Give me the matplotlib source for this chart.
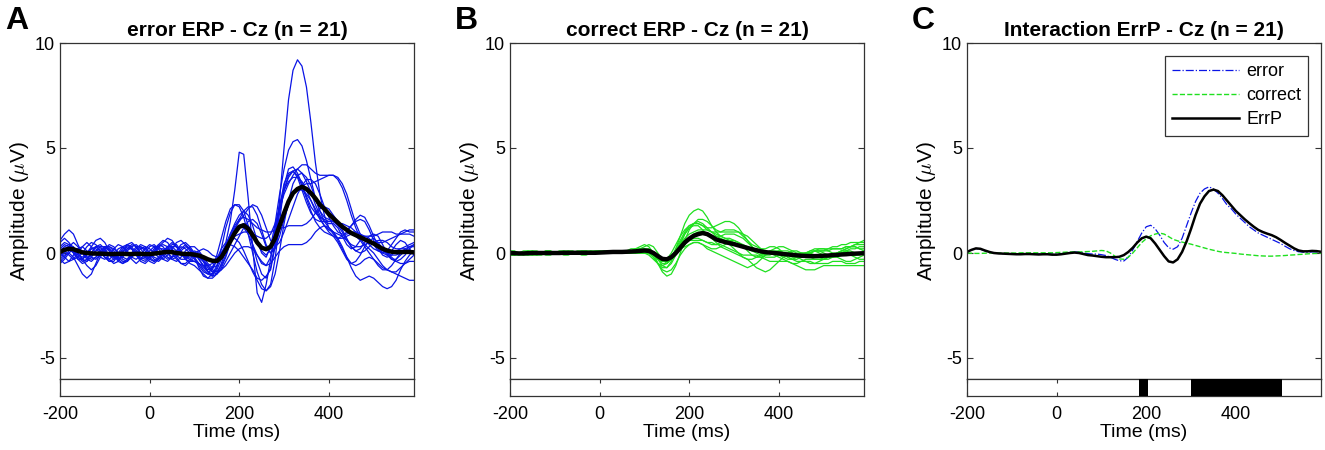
import numpy as np
import matplotlib
matplotlib.use('Agg')
import matplotlib.pyplot as plt

plt.rcParams['font.family'] = ['Liberation Sans', 'DejaVu Sans']
plt.rcParams['mathtext.fontset'] = 'cm'
plt.rcParams['axes.unicode_minus'] = False

# time axis: -200 .. 590 ms, 10 ms steps
t = np.arange(-200, 600, 10)
x_ticks = [-200, 0, 200, 400]
y_ticks = [-5, 0, 5, 10]

titles = ['error ERP - Cz (n = 21)', 'correct ERP - Cz (n = 21)', 'Interaction ErrP - Cz (n = 21)']
letters = ['A', 'B', 'C']
legend_labels = ['error', 'correct', 'ErrP']

# significant time windows (ms) for panel C
sig_start = [183, 299]
sig_end = [204, 502]

# grand averages
error_avg = [0.05, 0.15, 0.2, 0.18, 0.1, 0.03, 0.0, -0.02, -0.03, -0.03,
             -0.04, -0.05, -0.05, -0.04, -0.04, -0.05, -0.05, -0.04, -0.04, -0.05,
             -0.05, -0.03, 0.0, 0.03, 0.05, 0.04, 0.0, -0.03, -0.05, -0.05,
             -0.08, -0.12, -0.2, -0.3, -0.37, -0.38, -0.2, 0.15, 0.55, 0.95,
             1.25, 1.32, 1.15, 0.85, 0.5, 0.25, 0.18, 0.3, 0.7, 1.3,
             1.9, 2.45, 2.85, 3.05, 3.15, 3.05, 2.85, 2.6, 2.3, 2.1,
             1.85, 1.65, 1.45, 1.25, 1.1, 0.95, 0.85, 0.75, 0.65, 0.55,
             0.45, 0.32, 0.2, 0.12, 0.06, 0.04, 0.04, 0.05, 0.05, 0.03]

correct_avg = [0.0, -0.01, -0.02, -0.02, -0.01, 0.0, 0.0, 0.0, 0.0, 0.0,
               0.0, 0.0, 0.01, 0.01, 0.01, 0.01, 0.01, 0.01, 0.01, 0.01,
               0.02, 0.03, 0.04, 0.05, 0.05, 0.05, 0.06, 0.07, 0.08, 0.1,
               0.12, 0.1, 0.0, -0.15, -0.28, -0.3, -0.2, 0.0, 0.25, 0.5,
               0.68, 0.82, 0.9, 0.95, 0.9, 0.78, 0.65, 0.58, 0.52, 0.47,
               0.42, 0.36, 0.3, 0.24, 0.18, 0.13, 0.08, 0.04, 0.02, 0.0,
               -0.02, -0.05, -0.07, -0.09, -0.11, -0.13, -0.14, -0.15, -0.15, -0.14,
               -0.13, -0.12, -0.1, -0.09, -0.07, -0.06, -0.04, -0.03, -0.02, -0.01]

errp = [0.05, 0.15, 0.22, 0.2, 0.12, 0.05, 0.0, -0.02, -0.03, -0.04,
        -0.05, -0.06, -0.06, -0.05, -0.05, -0.06, -0.07, -0.06, -0.06, -0.08,
        -0.08, -0.06, -0.03, 0.0, 0.02, 0.0, -0.05, -0.1, -0.12, -0.15,
        -0.18, -0.2, -0.2, -0.2, -0.18, -0.1, 0.05, 0.25, 0.5, 0.7,
        0.78, 0.7, 0.45, 0.15, -0.15, -0.4, -0.45, -0.3, 0.05, 0.55,
        1.15, 1.8, 2.35, 2.7, 2.95, 3.02, 2.95, 2.75, 2.5, 2.25,
        2.0, 1.8, 1.6, 1.42, 1.25, 1.1, 1.0, 0.92, 0.85, 0.75,
        0.62, 0.48, 0.35, 0.22, 0.12, 0.08, 0.08, 0.1, 0.09, 0.06]

# single subjects, error condition
err_subj = [
    [0.3, 0.5, 0.4, 0.1, -0.2, -0.3, -0.1, 0.2, 0.3, 0.1,
     -0.2, -0.4, -0.3, 0.0, 0.3, 0.4, 0.2, -0.1, -0.3, -0.2,
     0.1, 0.3, 0.3, 0.1, -0.2, -0.3, -0.2, 0.1, 0.3, 0.2,
     0.0, -0.3, -0.6, -0.8, -0.7, -0.4, 0.0, 0.3, 0.4, 0.3,
     0.1, -0.2, -0.5, -0.8, -1.2, -1.3, -1.1, -0.8, 0.3, 2.5,
     5.0, 7.3, 8.7, 9.2, 8.9, 7.9, 6.2, 4.3, 2.8, 1.8,
     1.2, 0.9, 0.7, 0.7, 0.8, 0.9, 0.8, 0.6, 0.3, 0.0,
     -0.3, -0.6, -0.8, -0.8, -0.6, -0.3, 0.0, 0.2, 0.3, 0.3],
    [-0.2, 0.0, 0.3, 0.5, 0.3, 0.0, -0.3, -0.4, -0.2, 0.1,
     0.3, 0.2, -0.1, -0.4, -0.5, -0.3, 0.0, 0.3, 0.3, 0.1,
     -0.2, -0.4, -0.3, 0.0, 0.3, 0.5, 0.3, 0.0, -0.3, -0.4,
     -0.4, -0.5, -0.7, -0.9, -0.8, -0.3, 0.2, 0.5, 1.5, 3.0,
     4.8, 4.7, 2.6, 0.2, -1.9, -2.35, -1.5, -0.3, 1.2, 2.3,
     3.0, 3.4, 3.6, 3.6, 3.4, 3.0, 2.5, 2.0, 1.6, 1.3,
     1.1, 1.0, 0.9, 0.8, 0.6, 0.4, 0.3, 0.3, 0.4, 0.5,
     0.5, 0.4, 0.2, 0.0, -0.1, -0.1, 0.0, 0.1, 0.1, 0.0],
    [0.0, -0.2, -0.4, -0.3, 0.0, 0.3, 0.5, 0.3, 0.0, -0.2,
     -0.3, -0.1, 0.2, 0.4, 0.3, 0.0, -0.3, -0.5, -0.3, 0.0,
     0.3, 0.4, 0.2, -0.1, -0.3, -0.2, 0.1, 0.4, 0.5, 0.3,
     0.0, -0.3, -0.6, -0.9, -1.0, -0.8, -0.3, 0.3, 0.9, 1.4,
     1.8, 2.0, 1.8, 1.3, 0.6, 0.0, -0.2, 0.3, 1.4, 2.8,
     4.0, 4.9, 5.3, 5.4, 5.1, 4.4, 3.5, 2.6, 2.0, 1.7,
     1.6, 1.5, 1.3, 1.0, 0.6, 0.3, 0.1, 0.0, 0.1, 0.3,
     0.5, 0.6, 0.6, 0.5, 0.3, 0.2, 0.2, 0.3, 0.4, 0.5],
    [0.5, 0.7, 0.5, 0.2, -0.1, -0.2, 0.0, 0.2, 0.2, 0.0,
     -0.2, -0.3, -0.1, 0.2, 0.3, 0.1, -0.2, -0.3, -0.1, 0.2,
     0.4, 0.3, 0.0, -0.3, -0.4, -0.2, 0.1, 0.3, 0.2, 0.0,
     -0.3, -0.6, -0.9, -1.0, -0.7, -0.1, 0.7, 1.5, 2.1, 2.3,
     2.2, 1.7, 0.9, 0.0, -0.9, -1.5, -1.8, -1.5, -0.3, 1.5,
     3.2, 4.0, 4.1, 3.8, 3.3, 2.7, 2.2, 1.9, 1.7, 1.6,
     1.5, 1.5, 1.4, 1.4, 1.3, 1.2, 1.0, 0.9, 0.8, 0.8,
     0.8, 0.9, 1.0, 1.0, 1.0, 0.9, 0.9, 1.0, 1.1, 1.1],
    [-0.3, -0.5, -0.4, -0.1, 0.2, 0.3, 0.1, -0.2, -0.3, -0.1,
     0.2, 0.4, 0.3, 0.0, -0.3, -0.4, -0.2, 0.1, 0.3, 0.2,
     0.0, -0.2, -0.3, -0.1, 0.2, 0.4, 0.4, 0.1, -0.2, -0.3,
     -0.4, -0.5, -0.6, -0.6, -0.5, -0.3, 0.0, 0.3, 0.6, 0.8,
     0.9, 1.0, 1.0, 0.9, 0.8, 0.7, 0.7, 0.9, 1.4, 2.1,
     2.8, 3.3, 3.7, 4.0, 4.2, 4.2, 4.0, 3.8, 3.7, 3.7,
     3.7, 3.7, 3.5, 3.1, 2.5, 1.8, 1.2, 0.7, 0.4, 0.2,
     0.0, -0.3, -0.6, -0.8, -0.9, -0.9, -0.7, -0.5, -0.3, -0.1],
    [0.2, 0.1, -0.1, -0.3, -0.2, 0.0, 0.3, 0.5, 0.4, 0.1,
     -0.2, -0.4, -0.4, -0.1, 0.2, 0.4, 0.3, 0.0, -0.3, -0.4,
     -0.2, 0.1, 0.4, 0.6, 0.5, 0.2, -0.1, -0.3, -0.3, -0.1,
     0.1, 0.0, -0.4, -0.9, -1.1, -0.7, 0.2, 1.2, 1.9, 2.3,
     2.3, 2.0, 1.3, 0.4, -0.4, -1.0, -1.2, -0.7, 0.5, 1.9,
     3.0, 3.7, 3.9, 3.7, 3.2, 2.6, 2.0, 1.5, 1.2, 1.0,
     0.9, 0.8, 0.5, 0.1, -0.3, -0.5, -0.4, -0.1, 0.3, 0.6,
     0.7, 0.5, 0.2, -0.1, -0.3, -0.3, -0.1, 0.1, 0.3, 0.4],
    [0.1, 0.3, 0.4, 0.3, 0.0, -0.3, -0.4, -0.2, 0.1, 0.3,
     0.3, 0.1, -0.2, -0.3, -0.2, 0.1, 0.3, 0.4, 0.2, -0.1,
     -0.3, -0.4, -0.2, 0.1, 0.3, 0.3, 0.1, -0.1, -0.2, -0.1,
     0.0, 0.1, 0.2, 0.1, -0.1, -0.2, 0.0, 0.4, 0.9, 1.3,
     1.6, 1.7, 1.6, 1.4, 1.2, 1.1, 1.0, 1.0, 1.1, 1.2,
     1.2, 1.3, 1.3, 1.3, 1.3, 1.4, 1.6, 1.9, 2.1, 2.2,
     2.1, 1.8, 1.5, 1.2, 1.1, 1.3, 1.6, 1.8, 1.7, 1.3,
     0.8, 0.3, 0.0, -0.1, 0.1, 0.4, 0.6, 0.5, 0.2, -0.1],
    [-0.4, -0.2, 0.1, 0.2, 0.0, -0.3, -0.6, -0.8, -0.6, -0.2,
     0.1, 0.2, 0.0, -0.3, -0.5, -0.4, -0.1, 0.1, 0.0, -0.2,
     -0.4, -0.5, -0.3, 0.0, 0.2, 0.1, -0.2, -0.5, -0.6, -0.4,
     -0.2, -0.2, -0.4, -0.6, -0.8, -0.9, -0.8, -0.6, -0.3, 0.0,
     0.2, 0.3, 0.3, 0.2, -0.1, -0.4, -0.6, -0.5, -0.2, 0.1,
     0.3, 0.4, 0.4, 0.4, 0.4, 0.5, 0.7, 1.0, 1.2, 1.3,
     1.2, 1.0, 0.6, 0.2, -0.2, -0.5, -0.6, -0.5, -0.3, -0.2,
     -0.3, -0.5, -0.7, -0.8, -0.9, -1.0, -1.1, -1.2, -1.3, -1.3],
    [0.0, 0.2, 0.3, 0.1, -0.2, -0.4, -0.3, 0.0, 0.3, 0.4,
     0.2, -0.1, -0.3, -0.2, 0.1, 0.3, 0.2, -0.1, -0.4, -0.5,
     -0.3, 0.0, 0.2, 0.2, 0.0, -0.3, -0.4, -0.2, 0.1, 0.3,
     0.3, 0.1, -0.2, -0.5, -0.7, -0.6, -0.2, 0.3, 0.6, 0.7,
     0.5, 0.1, -0.4, -0.9, -1.3, -1.7, -1.8, -1.6, -1.0, 0.1,
     1.4, 2.5, 3.3, 3.7, 3.8, 3.6, 3.2, 2.6, 2.0, 1.5,
     1.2, 1.0, 0.7, 0.3, -0.2, -0.7, -1.1, -1.3, -1.2, -1.1,
     -1.2, -1.4, -1.6, -1.7, -1.6, -1.3, -0.8, -0.4, -0.1, 0.1],
    [-0.5, -0.3, 0.0, 0.2, 0.2, 0.0, -0.2, -0.3, -0.2, 0.0,
     0.2, 0.3, 0.2, 0.0, -0.2, -0.3, -0.2, 0.0, 0.2, 0.3,
     0.2, 0.0, -0.2, -0.3, -0.1, 0.2, 0.5, 0.6, 0.4, 0.1,
     -0.2, -0.5, -0.8, -1.0, -1.1, -1.0, -0.8, -0.4, 0.0, 0.4,
     0.8, 1.2, 1.5, 1.6, 1.4, 0.9, 0.3, 0.0, 0.2, 0.8,
     1.6, 2.3, 2.8, 3.1, 3.2, 3.3, 3.3, 3.4, 3.5, 3.6,
     3.7, 3.7, 3.6, 3.3, 2.8, 2.1, 1.4, 0.9, 0.6, 0.5,
     0.5, 0.5, 0.5, 0.6, 0.7, 0.8, 0.9, 0.9, 0.9, 0.8],
    [0.6, 0.9, 1.1, 0.9, 0.4, 0.0, -0.2, -0.1, 0.1, 0.2,
     0.1, -0.1, -0.2, -0.1, 0.1, 0.2, 0.2, 0.0, -0.2, -0.3,
     -0.2, 0.1, 0.3, 0.4, 0.3, 0.0, -0.3, -0.5, -0.5, -0.3,
     -0.1, -0.1, -0.3, -0.6, -0.9, -1.0, -0.7, -0.2, 0.5, 1.1,
     1.6, 2.0, 2.2, 2.2, 1.8, 1.1, 0.4, 0.0, 0.3, 1.1,
     1.9, 2.5, 2.9, 3.0, 3.0, 2.8, 2.5, 2.1, 1.7, 1.3,
     1.0, 0.8, 0.7, 0.8, 1.0, 1.3, 1.5, 1.6, 1.5, 1.1,
     0.6, 0.2, -0.1, -0.2, -0.1, 0.1, 0.2, 0.2, 0.1, 0.0],
    [-0.3, -0.1, 0.0, -0.2, -0.6, -1.0, -1.2, -1.0, -0.5, 0.0,
     0.3, 0.3, 0.1, -0.2, -0.4, -0.4, -0.1, 0.2, 0.4, 0.3,
     0.0, -0.3, -0.4, -0.2, 0.1, 0.3, 0.3, 0.0, -0.3, -0.5,
     -0.6, -0.8, -1.0, -1.2, -1.2, -1.0, -0.5, 0.1, 0.7, 1.1,
     1.3, 1.2, 0.9, 0.4, -0.1, -0.5, -0.6, -0.2, 0.8, 2.2,
     3.3, 3.8, 3.9, 3.6, 3.0, 2.4, 1.9, 1.6, 1.5, 1.5,
     1.5, 1.5, 1.4, 1.1, 0.7, 0.3, 0.1, 0.2, 0.5, 0.8,
     0.9, 0.8, 0.4, 0.0, -0.3, -0.4, -0.3, -0.1, 0.2, 0.4],
    [0.2, 0.4, 0.3, 0.0, -0.3, -0.3, 0.0, 0.3, 0.6, 0.7,
     0.5, 0.1, -0.2, -0.3, -0.1, 0.2, 0.4, 0.3, 0.0, -0.2,
     -0.2, 0.0, 0.3, 0.5, 0.7, 0.6, 0.3, 0.0, -0.2, -0.2,
     -0.1, -0.2, -0.4, -0.7, -0.9, -0.9, -0.6, -0.1, 0.5, 1.0,
     1.3, 1.4, 1.3, 1.0, 0.5, 0.1, -0.1, 0.2, 1.0, 2.1,
     3.0, 3.6, 3.9, 4.0, 3.8, 3.4, 2.9, 2.3, 1.8, 1.5,
     1.4, 1.4, 1.2, 0.8, 0.4, 0.2, 0.3, 0.6, 0.8, 0.7,
     0.4, 0.1, 0.0, 0.1, 0.4, 0.7, 1.0, 1.1, 1.0, 1.0],
    [-0.1, 0.1, 0.2, 0.0, -0.3, -0.5, -0.4, 0.0, 0.3, 0.3,
     0.0, -0.3, -0.5, -0.4, 0.0, 0.4, 0.5, 0.3, 0.0, -0.2,
     -0.1, 0.2, 0.4, 0.3, 0.0, -0.2, -0.1, 0.2, 0.4, 0.2,
     -0.2, -0.7, -1.1, -1.2, -1.0, -0.6, -0.1, 0.4, 0.8, 1.2,
     1.5, 1.8, 2.1, 2.3, 2.2, 1.8, 1.2, 0.6, 0.3, 0.5,
     1.0, 1.6, 2.2, 2.8, 3.2, 3.5, 3.5, 3.3, 2.8, 2.2,
     1.7, 1.3, 1.0, 0.9, 0.9, 1.0, 1.0, 0.9, 0.7, 0.4,
     0.2, 0.1, 0.1, 0.0, -0.2, -0.4, -0.5, -0.5, -0.4, -0.4],
]

# single subjects, correct condition
cor_subj = [
    [-0.1, -0.1, 0.0, 0.0, 0.0, 0.1, 0.1, 0.0, 0.0, 0.0,
     0.0, 0.0, 0.0, 0.1, 0.1, 0.0, 0.0, 0.0, 0.0, 0.0,
     0.0, 0.0, 0.0, 0.1, 0.1, 0.0, 0.0, 0.1, 0.1, 0.1,
     0.2, 0.2, 0.0, -0.3, -0.6, -0.7, -0.4, 0.2, 0.8, 1.4,
     1.8, 2.0, 2.1, 2.0, 1.7, 1.3, 1.0, 0.8, 0.7, 0.7,
     0.6, 0.5, 0.3, 0.1, -0.1, -0.2, -0.2, -0.1, 0.0, 0.0,
     -0.1, -0.2, -0.3, -0.3, -0.2, -0.1, 0.0, 0.0, -0.1, -0.2,
     -0.3, -0.3, -0.2, -0.1, 0.0, 0.1, 0.2, 0.2, 0.3, 0.3],
    [0.0, 0.0, 0.0, -0.1, -0.1, 0.0, 0.0, 0.0, 0.1, 0.1,
     0.0, 0.0, 0.0, 0.0, 0.0, 0.0, 0.1, 0.1, 0.0, 0.0,
     0.0, 0.0, 0.1, 0.1, 0.1, 0.1, 0.1, 0.1, 0.2, 0.2,
     0.2, 0.1, -0.1, -0.3, -0.4, -0.3, 0.0, 0.4, 0.8, 1.1,
     1.3, 1.4, 1.4, 1.3, 1.2, 1.2, 1.3, 1.4, 1.5, 1.5,
     1.4, 1.2, 0.9, 0.6, 0.3, 0.1, 0.0, 0.0, 0.0, 0.0,
     0.0, 0.0, -0.1, -0.1, -0.1, 0.0, 0.0, 0.0, 0.1, 0.1,
     0.1, 0.2, 0.2, 0.2, 0.2, 0.3, 0.3, 0.4, 0.5, 0.6],
    [0.0, 0.0, 0.0, 0.0, 0.0, -0.1, -0.1, 0.0, 0.0, 0.0,
     0.0, 0.1, 0.1, 0.0, 0.0, 0.0, 0.0, 0.0, 0.0, 0.1,
     0.1, 0.1, 0.0, 0.0, 0.0, 0.1, 0.1, 0.2, 0.2, 0.3,
     0.4, 0.3, 0.0, -0.5, -0.9, -1.1, -1.0, -0.6, 0.0, 0.6,
     1.1, 1.4, 1.5, 1.4, 1.2, 1.0, 0.8, 0.7, 0.6, 0.4,
     0.2, 0.0, -0.2, -0.3, -0.3, -0.2, -0.1, 0.0, 0.0, -0.1,
     -0.2, -0.3, -0.4, -0.5, -0.5, -0.4, -0.3, -0.3, -0.3, -0.3,
     -0.3, -0.2, -0.1, 0.0, 0.1, 0.1, 0.0, -0.1, -0.1, 0.0],
    [-0.1, 0.0, 0.0, 0.0, 0.0, 0.0, 0.0, 0.0, -0.1, -0.1,
     0.0, 0.0, 0.0, 0.0, 0.0, 0.0, 0.0, 0.0, 0.0, 0.0,
     0.0, 0.0, 0.0, 0.0, 0.0, 0.0, 0.1, 0.1, 0.1, 0.1,
     0.1, 0.1, 0.0, -0.2, -0.3, -0.3, -0.2, 0.0, 0.3, 0.5,
     0.7, 0.9, 1.0, 1.0, 0.9, 0.7, 0.5, 0.3, 0.2, 0.1,
     0.0, -0.1, -0.2, -0.3, -0.5, -0.7, -0.8, -0.9, -0.8, -0.6,
     -0.4, -0.2, -0.1, -0.1, -0.2, -0.3, -0.4, -0.5, -0.5, -0.4,
     -0.3, -0.2, -0.2, -0.2, -0.3, -0.4, -0.4, -0.3, -0.2, -0.1],
    [0.0, -0.1, -0.1, 0.0, 0.0, 0.0, 0.0, 0.0, 0.0, 0.0,
     0.0, 0.0, -0.1, -0.1, 0.0, 0.0, 0.0, 0.0, 0.0, 0.0,
     0.0, 0.0, 0.0, 0.0, 0.0, 0.1, 0.1, 0.1, 0.0, 0.0,
     0.0, 0.0, -0.1, -0.3, -0.5, -0.5, -0.3, 0.0, 0.3, 0.5,
     0.6, 0.6, 0.6, 0.6, 0.5, 0.5, 0.4, 0.4, 0.3, 0.2,
     0.1, 0.0, -0.1, -0.1, -0.1, -0.1, -0.2, -0.3, -0.4, -0.4,
     -0.4, -0.4, -0.4, -0.5, -0.6, -0.7, -0.8, -0.8, -0.8, -0.7,
     -0.6, -0.6, -0.6, -0.6, -0.6, -0.6, -0.6, -0.6, -0.6, -0.6],
    [0.1, 0.1, 0.0, 0.0, 0.0, 0.0, 0.0, 0.0, 0.0, 0.0,
     0.0, 0.0, 0.0, 0.0, 0.0, 0.1, 0.1, 0.1, 0.0, 0.0,
     0.0, 0.0, 0.0, 0.0, 0.1, 0.1, 0.0, 0.0, 0.1, 0.2,
     0.3, 0.4, 0.3, 0.0, -0.3, -0.5, -0.3, 0.1, 0.5, 0.9,
     1.2, 1.3, 1.3, 1.1, 0.9, 0.8, 0.8, 0.8, 0.9, 0.9,
     0.9, 0.8, 0.7, 0.5, 0.3, 0.1, 0.0, 0.0, 0.1, 0.1,
     0.1, 0.0, -0.1, -0.2, -0.2, -0.2, -0.1, 0.0, 0.1, 0.1,
     0.0, -0.1, -0.1, 0.0, 0.1, 0.2, 0.3, 0.3, 0.2, 0.1],
    [0.0, 0.0, 0.0, 0.0, 0.1, 0.1, 0.0, 0.0, 0.0, 0.0,
     0.0, 0.0, 0.0, 0.0, 0.0, 0.0, 0.0, 0.0, 0.0, 0.0,
     0.0, 0.1, 0.1, 0.1, 0.0, 0.0, 0.0, 0.0, 0.0, 0.0,
     0.0, 0.0, -0.1, -0.2, -0.3, -0.3, -0.2, 0.0, 0.2, 0.3,
     0.4, 0.5, 0.5, 0.4, 0.3, 0.2, 0.2, 0.3, 0.4, 0.5,
     0.5, 0.4, 0.3, 0.2, 0.1, 0.0, -0.1, -0.2, -0.2, -0.2,
     -0.1, 0.0, 0.0, 0.1, 0.1, 0.0, -0.1, -0.2, -0.3, -0.3,
     -0.3, -0.2, -0.1, 0.0, 0.0, 0.0, -0.1, -0.2, -0.3, -0.3],
    [0.0, 0.0, 0.0, 0.0, 0.0, 0.0, -0.1, -0.1, 0.0, 0.0,
     0.0, 0.0, 0.1, 0.1, 0.0, 0.0, 0.0, 0.0, 0.0, 0.0,
     0.0, 0.0, 0.0, 0.0, 0.0, 0.0, 0.0, 0.0, 0.1, 0.1,
     0.1, 0.0, -0.2, -0.5, -0.7, -0.7, -0.5, -0.1, 0.4, 0.9,
     1.2, 1.4, 1.6, 1.6, 1.5, 1.3, 1.1, 1.0, 1.0, 1.0,
     1.0, 1.0, 0.9, 0.8, 0.6, 0.4, 0.2, 0.1, 0.0, 0.0,
     0.1, 0.1, 0.1, 0.0, -0.1, -0.1, 0.0, 0.1, 0.2, 0.2,
     0.2, 0.1, 0.0, 0.0, 0.1, 0.2, 0.3, 0.4, 0.4, 0.4],
    [-0.1, -0.1, 0.0, 0.0, 0.0, 0.0, 0.0, 0.0, 0.0, 0.0,
     0.0, 0.0, 0.0, 0.0, 0.0, 0.0, 0.0, 0.1, 0.1, 0.0,
     0.0, 0.0, 0.0, 0.0, 0.0, 0.0, 0.0, 0.1, 0.1, 0.1,
     0.1, 0.0, -0.2, -0.5, -0.8, -0.9, -0.8, -0.5, -0.1, 0.2,
     0.4, 0.5, 0.5, 0.4, 0.2, 0.1, 0.0, -0.1, -0.2, -0.3,
     -0.4, -0.5, -0.6, -0.7, -0.6, -0.5, -0.3, -0.1, 0.1, 0.2,
     0.3, 0.3, 0.2, 0.1, 0.0, 0.0, 0.0, 0.1, 0.1, 0.0,
     -0.1, -0.2, -0.2, -0.1, 0.0, 0.1, 0.1, 0.0, 0.0, -0.1],
    [0.0, 0.0, 0.0, 0.1, 0.1, 0.0, 0.0, 0.0, 0.0, 0.0,
     0.0, 0.0, 0.0, 0.0, 0.0, 0.0, 0.0, 0.0, 0.1, 0.1,
     0.1, 0.0, 0.0, 0.0, 0.0, 0.0, 0.1, 0.1, 0.1, 0.0,
     0.0, -0.1, -0.3, -0.5, -0.6, -0.5, -0.2, 0.2, 0.6, 1.0,
     1.3, 1.4, 1.4, 1.3, 1.1, 1.0, 1.0, 1.0, 1.1, 1.1,
     1.1, 1.0, 0.8, 0.6, 0.4, 0.3, 0.2, 0.2, 0.3, 0.3,
     0.2, 0.0, -0.2, -0.3, -0.3, -0.2, -0.1, 0.0, 0.1, 0.2,
     0.2, 0.2, 0.3, 0.3, 0.4, 0.4, 0.5, 0.5, 0.5, 0.5],
    [0.0, 0.0, -0.1, -0.1, 0.0, 0.0, 0.0, 0.0, 0.0, 0.0,
     0.0, 0.0, 0.0, 0.0, 0.0, 0.0, 0.0, 0.0, 0.0, 0.0,
     0.0, 0.0, 0.0, 0.1, 0.1, 0.1, 0.0, 0.0, 0.0, 0.1,
     0.1, 0.1, 0.0, -0.2, -0.4, -0.4, -0.3, -0.1, 0.2, 0.4,
     0.6, 0.7, 0.7, 0.6, 0.5, 0.4, 0.4, 0.5, 0.6, 0.6,
     0.6, 0.5, 0.4, 0.3, 0.2, 0.1, 0.0, -0.1, -0.1, 0.0,
     0.0, -0.1, -0.2, -0.3, -0.4, -0.4, -0.4, -0.4, -0.5, -0.5,
     -0.5, -0.5, -0.4, -0.4, -0.4, -0.5, -0.5, -0.5, -0.4, -0.4],
    [0.0, 0.0, 0.0, 0.0, -0.1, -0.1, 0.0, 0.0, 0.1, 0.1,
     0.0, 0.0, 0.0, 0.0, 0.0, 0.0, -0.1, -0.1, 0.0, 0.0,
     0.0, 0.0, 0.0, 0.0, 0.0, 0.0, 0.0, 0.0, 0.0, 0.0,
     0.0, 0.0, -0.1, -0.3, -0.4, -0.4, -0.2, 0.1, 0.4, 0.7,
     0.9, 1.0, 1.1, 1.1, 1.1, 1.0, 0.9, 0.8, 0.7, 0.6,
     0.5, 0.4, 0.3, 0.3, 0.2, 0.2, 0.1, 0.1, 0.0, 0.0,
     0.0, 0.0, 0.0, 0.0, -0.1, -0.1, 0.0, 0.0, 0.1, 0.1,
     0.1, 0.1, 0.2, 0.2, 0.2, 0.3, 0.3, 0.3, 0.2, 0.2],
]

blue = '#0a14e6'
green = '#1fe01f'
frame = '#333333'

fig = plt.figure(figsize=(13.25, 4.5), dpi=100)
lefts = [60, 510, 967]
width = 354

for k in range(3):
    x0 = lefts[k] / 1325
    ax = fig.add_axes([x0, 1 - 379 / 450, width / 1325, 336 / 450])
    ax_s = fig.add_axes([x0, 1 - 396 / 450, width / 1325, 17 / 450])

    if k == 0:
        for s in err_subj:
            ax.plot(t, s, color=blue, lw=0.9)
        ax.plot(t, error_avg, color='black', lw=3.2)
    elif k == 1:
        for s in cor_subj:
            ax.plot(t, s, color=green, lw=0.9)
        ax.plot(t, correct_avg, color='black', lw=3.2)
    else:
        ax.plot(t, error_avg, color=blue, lw=0.9, ls='-.', label=legend_labels[0])
        ax.plot(t, correct_avg, color=green, lw=1.0, ls='--', label=legend_labels[1])
        ax.plot(t, errp, color='black', lw=1.8, label=legend_labels[2])
        leg = ax.legend(loc='upper right', fontsize=13, handlelength=3.7,
                        fancybox=False, framealpha=1, borderaxespad=0.7,
                        labelspacing=0.4, handletextpad=0.4, borderpad=0.4)
        leg.get_frame().set_edgecolor(frame)
        leg.get_frame().set_linewidth(0.9)
        for a, b in zip(sig_start, sig_end):
            ax_s.axvspan(a, b, color='black', lw=0, zorder=3)

    ax.set_xlim(-200, 590)
    ax.set_ylim(-6, 10)
    ax.set_yticks(y_ticks)
    ax.set_yticklabels([str(v) for v in y_ticks])
    ax.tick_params(axis='y', direction='in', right=True, length=4, labelsize=13,
                   colors=frame, labelcolor='black')
    ax.tick_params(axis='x', bottom=False, labelbottom=False)
    ax.set_ylabel(r'Amplitude ($\mu$V)', fontsize=15, labelpad=3)
    ax.set_title(titles[k], fontsize=15, fontweight='bold', pad=5)

    ax_s.set_xlim(-200, 590)
    ax_s.set_ylim(0, 1)
    ax_s.set_yticks([])
    ax_s.set_xticks(x_ticks)
    ax_s.set_xticklabels([str(v) for v in x_ticks])
    ax_s.tick_params(axis='x', direction='in', top=True, length=3, labelsize=13,
                     pad=7, colors=frame, labelcolor='black')
    ax_s.set_xlabel('Time (ms)', fontsize=14, labelpad=1)

    for a in (ax, ax_s):
        for sp in a.spines.values():
            sp.set_color(frame)
            sp.set_linewidth(0.9)

    fig.text((lefts[k] - 55) / 1325, 1 - 6 / 450, letters[k], fontsize=23,
             fontweight='bold', ha='left', va='top')

fig.savefig('out.png', dpi=100)
